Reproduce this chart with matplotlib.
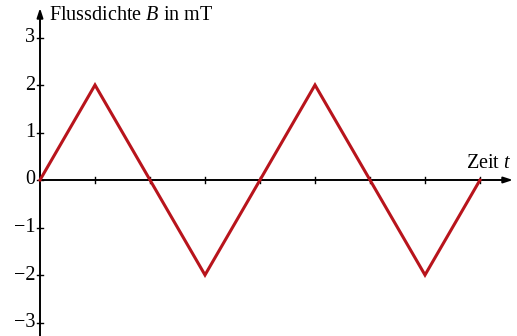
import matplotlib
matplotlib.use("Agg")
import matplotlib.pyplot as plt

# Data
t_values = [0, 1, 2, 3, 4, 5, 6, 7, 8]
B_values = [0, 2, 0, -2, 0, 2, 0, -2, 0]
y_ticks = [-3, -2, -1, 0, 1, 2, 3]
y_tick_labels = ["\u22123", "\u22122", "\u22121", "0", "1", "2", "3"]
x_ticks = [1, 2, 3, 4, 5, 6, 7, 8]
y_label = "Flussdichte $B$ in mT"
x_label = "Zeit $t$"

plt.rcParams["font.family"] = ["Liberation Serif", "DejaVu Serif"]
plt.rcParams["mathtext.fontset"] = "custom"
plt.rcParams["mathtext.rm"] = "Liberation Serif"
plt.rcParams["mathtext.it"] = "Liberation Serif:italic"

fig = plt.figure(figsize=(5.17, 3.36), dpi=100)
ax = fig.add_axes([0, 0, 1, 1])
ax.set_xlim(-40 / 55, 477 / 55)
ax.set_ylim(-156 / 47.5, 180 / 47.5)
ax.patch.set_alpha(0)

ax.plot(t_values, B_values, color="#b8141c", lw=2.2, solid_joinstyle="miter", zorder=3)

for s in ["top", "right", "left", "bottom"]:
    ax.spines[s].set_visible(False)

# axes with arrows
y_top = 172 / 47.5
x_right = 473 / 55
ax.annotate("", xy=(0, y_top), xytext=(0, ax.get_ylim()[0]),
            arrowprops=dict(arrowstyle="-|>,head_length=0.55,head_width=0.18",
                            lw=1.4, color="black", shrinkA=0, shrinkB=0), zorder=2)
ax.annotate("", xy=(x_right, 0), xytext=(0, 0),
            arrowprops=dict(arrowstyle="-|>,head_length=0.55,head_width=0.18",
                            lw=1.4, color="black", shrinkA=0, shrinkB=0), zorder=2)

# ticks
for x in x_ticks:
    ax.plot([x, x], [-3 / 47.5, 3 / 47.5], color="black", lw=1.0, zorder=2)
for y in y_ticks:
    ax.plot([-3 / 55, 3 / 55], [y, y], color="black", lw=1.0, zorder=2)
for y, lab in zip(y_ticks, y_tick_labels):
    ax.text(-5 / 55, y, lab, ha="right", va="center", fontsize=14.5)

ax.text(9 / 55, 164 / 47.5, y_label, ha="left", va="center", fontsize=14.5)
ax.text(x_right - 0.02, 7 / 47.5, x_label, ha="right", va="bottom", fontsize=14.5)

ax.set_xticks([])
ax.set_yticks([])

fig.savefig("out.png", dpi=100)
